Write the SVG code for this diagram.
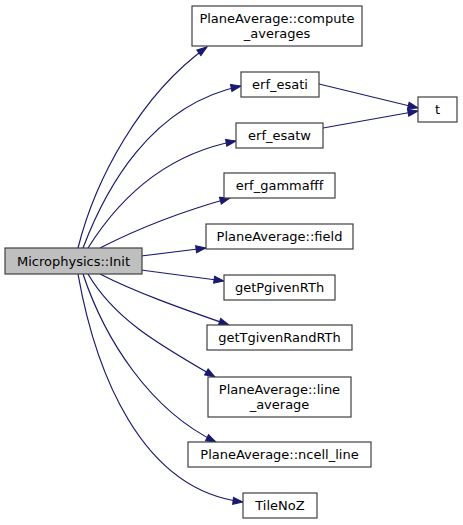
<svg xmlns="http://www.w3.org/2000/svg" width="463" height="525" viewBox="0 0 463 525">
<style>
.n rect{fill:#fff;stroke:#404040;stroke-width:1.2}
.root rect{fill:#bfbfbf}
text{font-family:"DejaVu Sans",sans-serif;font-size:13px;fill:#000;text-anchor:middle}
.e path{fill:none;stroke:#191970;stroke-width:1.2;marker-end:url(#a)}
</style>
<defs>
<marker id="a" markerUnits="userSpaceOnUse" markerWidth="12" markerHeight="9" refX="11" refY="4.5" orient="auto">
<path d="M1,1 L11,4.5 L1,8 z" fill="#191970" stroke="#191970"/>
</marker>
</defs>
<g class="e" id="edges">
<path d="M78,248 C95,180 140,95 207,47"/>
<path d="M83,248 C105,190 150,105 241,86"/>
<path d="M88,248 C115,205 160,155 236,141"/>
<path d="M100,248 C135,230 180,212 230,198"/>
<path d="M141,256 L206,248"/>
<path d="M141,270 L224,281"/>
<path d="M100,274 C135,292 180,308 229,325"/>
<path d="M88,274 C115,320 160,345 215,377"/>
<path d="M83,274 C105,340 150,410 216,442"/>
<path d="M78,274 C95,370 140,490 243,502"/>
<path d="M319,84 L418,108"/>
<path d="M323,128 L418,111"/>
</g>
<g id="n_init" class="n root"><rect x="5" y="248" width="137" height="26"/><text x="73.5" y="265.5">Microphysics::Init</text></g>
<g id="n_compute" class="n"><rect x="192" y="6" width="170" height="40"/><text x="277" y="23">PlaneAverage::compute</text><text x="277" y="38">_averages</text></g>
<g id="n_esati" class="n"><rect x="241" y="72" width="78" height="25"/><text x="280" y="89">erf_esati</text></g>
<g id="n_esatw" class="n"><rect x="236" y="123" width="87" height="25"/><text x="279.5" y="140">erf_esatw</text></g>
<g id="n_t" class="n"><rect x="418" y="97" width="39" height="25"/><text x="437.5" y="114">t</text></g>
<g id="n_gammafff" class="n"><rect x="224" y="173" width="111" height="25"/><text x="279.5" y="190">erf_gammafff</text></g>
<g id="n_field" class="n"><rect x="206" y="224" width="147" height="25"/><text x="279.5" y="241">PlaneAverage::field</text></g>
<g id="n_getP" class="n"><rect x="224" y="275" width="111" height="25"/><text x="279.5" y="292">getPgivenRTh</text></g>
<g id="n_getT" class="n"><rect x="207" y="325" width="145" height="25"/><text x="279.5" y="342">getTgivenRandRTh</text></g>
<g id="n_line" class="n"><rect x="208" y="377" width="143" height="40"/><text x="279.5" y="394">PlaneAverage::line</text><text x="279.5" y="409">_average</text></g>
<g id="n_ncell" class="n"><rect x="188" y="442" width="183" height="25"/><text x="279.5" y="459">PlaneAverage::ncell_line</text></g>
<g id="n_tile" class="n"><rect x="243" y="493" width="74" height="25"/><text x="280" y="510">TileNoZ</text></g>
</svg>
